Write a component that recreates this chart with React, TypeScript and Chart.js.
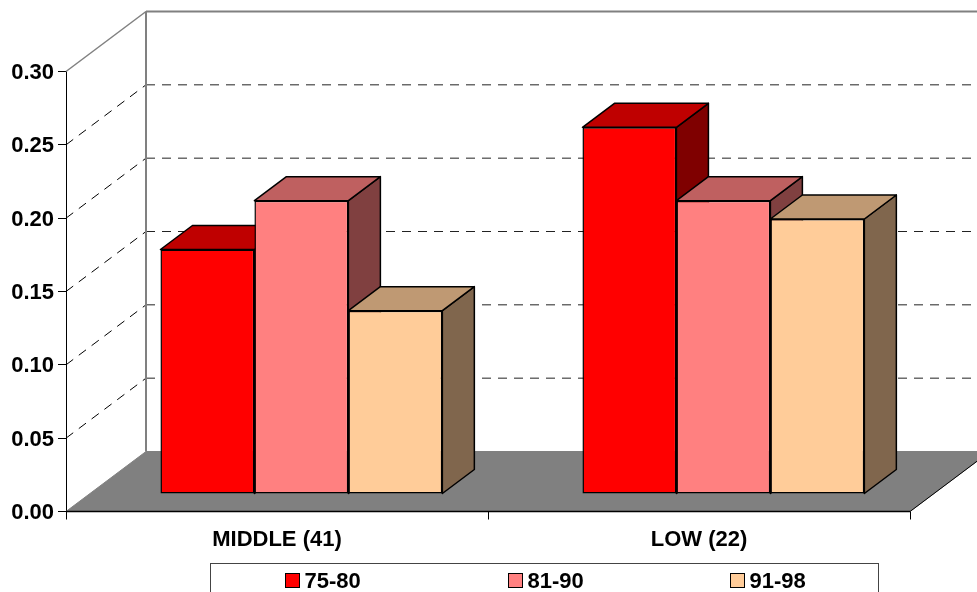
import React, { useEffect, useRef } from "react";
import { Chart, registerables } from "chart.js";

Chart.register(...registerables);

const categories = ["MIDDLE (41)", "LOW (22)"];
const seriesNames = ["75-80", "81-90", "91-98"];
const values7580 = [0.1667, 0.25];
const values8190 = [0.2, 0.2];
const values9198 = [0.125, 0.1875];
const frontColors = ["#FF0000", "#FF8080", "#FFCC99"];
const topColors = ["#BF0000", "#BF6060", "#BF9973"];
const sideColors = ["#7F0000", "#804040", "#80664D"];

const FONT = 'bold 22px "Liberation Sans", Arial, sans-serif';
const WALL_DX = 80;
const WALL_DY = -60;
const BAR_SHIFT_X = 24.4;
const BAR_SHIFT_Y = -17.5;
const BAR_DX = 32;
const BAR_DY = -24;

const poly = (ctx: CanvasRenderingContext2D, pts: number[][], fill: string, stroke: string, lw: number) => {
  ctx.beginPath();
  pts.forEach((p, i) => (i ? ctx.lineTo(p[0], p[1]) : ctx.moveTo(p[0], p[1])));
  ctx.closePath();
  ctx.fillStyle = fill;
  ctx.fill();
  ctx.strokeStyle = stroke;
  ctx.lineWidth = lw;
  ctx.stroke();
};

const line = (ctx: CanvasRenderingContext2D, x1: number, y1: number, x2: number, y2: number, color: string, lw: number, dash: number[] = []) => {
  ctx.save();
  ctx.beginPath();
  ctx.setLineDash(dash);
  ctx.moveTo(x1, y1);
  ctx.lineTo(x2, y2);
  ctx.strokeStyle = color;
  ctx.lineWidth = lw;
  ctx.stroke();
  ctx.restore();
};

const wallsPlugin = {
  id: "walls",
  beforeDatasetsDraw(chart: any) {
    const { ctx, scales } = chart;
    const { x, y } = scales;
    const left = x.left;
    const right = x.right;
    const base = y.getPixelForValue(0);
    const top = y.getPixelForValue(0.3);
    const W = chart.width;
    ctx.save();
    // floor
    poly(ctx, [[left, base], [left + WALL_DX, base + WALL_DY], [right + WALL_DX, base + WALL_DY], [right, base]], "#808080", "#808080", 1);
    line(ctx, right, base, right + WALL_DX, base + WALL_DY, "#000", 1);
    line(ctx, left, base, right, base, "#000", 1.5);
    // back wall gridlines and side-wall dashes
    y.ticks.forEach((t: any) => {
      if (t.value <= 0 || t.value >= 0.3) return;
      const py = y.getPixelForValue(t.value);
      line(ctx, left, py, left + WALL_DX, py + WALL_DY, "#000", 1, [9, 7]);
      line(ctx, left + WALL_DX, py + WALL_DY, W, py + WALL_DY, "#222", 1, [9, 7]);
    });
    // wall edges
    line(ctx, left, top, left + WALL_DX, top + WALL_DY, "#808080", 1.5);
    line(ctx, left + WALL_DX, top + WALL_DY, W, top + WALL_DY, "#808080", 2);
    line(ctx, left + WALL_DX, top + WALL_DY, left + WALL_DX, base + WALL_DY, "#808080", 2);
    // 3D bar faces, shifted onto the floor
    ctx.translate(BAR_SHIFT_X, BAR_SHIFT_Y);
    ctx.lineJoin = "round";
    chart.data.datasets.forEach((_: any, d: number) => {
      chart.getDatasetMeta(d).data.forEach((bar: any) => {
        const l = bar.x - bar.width / 2;
        const r = bar.x + bar.width / 2;
        const t = bar.y;
        const b = bar.base;
        poly(ctx, [[r, t], [r + BAR_DX, t + BAR_DY], [r + BAR_DX, b + BAR_DY], [r, b]], sideColors[d], "#000", 1.5);
        poly(ctx, [[l, t], [l + BAR_DX, t + BAR_DY], [r + BAR_DX, t + BAR_DY], [r, t]], topColors[d], "#000", 1.5);
      });
    });
  },
  afterDatasetsDraw(chart: any) {
    chart.ctx.restore();
  },
};

const legendPlugin = {
  id: "boxLegend",
  afterDraw(chart: any) {
    const { ctx } = chart;
    ctx.save();
    ctx.strokeStyle = "#444";
    ctx.lineWidth = 1;
    ctx.strokeRect(210.5, 563.5, 668, 40);
    ctx.font = FONT;
    ctx.textBaseline = "middle";
    ctx.textAlign = "left";
    const swatchX = [285.5, 508.5, 730.5];
    chart.data.datasets.forEach((ds: any, i: number) => {
      ctx.fillStyle = ds.backgroundColor;
      ctx.strokeStyle = "#000";
      ctx.lineWidth = 1;
      ctx.fillRect(swatchX[i], 573.5, 14, 14);
      ctx.strokeRect(swatchX[i], 573.5, 14, 14);
      ctx.fillStyle = "#000";
      ctx.fillText(ds.label, swatchX[i] + 19, 581.5);
    });
    ctx.restore();
  },
};

export default function App() {
  const ref = useRef<HTMLCanvasElement>(null);
  useEffect(() => {
    const chart = new Chart(ref.current as HTMLCanvasElement, {
      type: "bar",
      data: {
        labels: categories,
        datasets: [values7580, values8190, values9198].map((data, i) => ({
          label: seriesNames[i],
          data,
          backgroundColor: frontColors[i],
          borderColor: "#000",
          borderWidth: 1.5,
          borderSkipped: false,
          barPercentage: 1,
          categoryPercentage: 0.668,
          clip: false,
        })),
      },
      options: {
        animation: false,
        responsive: false,
        layout: { padding: { left: 0, right: 67, top: 71.5, bottom: 0 } },
        plugins: { legend: { display: false }, tooltip: { enabled: false } },
        scales: {
          x: {
            offset: true,
            grid: { drawOnChartArea: false, color: "#000", tickLength: 8, offset: true },
            border: { color: "#000", width: 1 },
            ticks: { color: "#000", font: { family: '"Liberation Sans", Arial, sans-serif', size: 22, weight: "bold" }, padding: 7, maxRotation: 0, autoSkip: false },
            afterFit(s: any) { s.height = 80.5; },
          },
          y: {
            min: 0,
            max: 0.3,
            grid: { drawOnChartArea: false, color: "#000", tickLength: 8 },
            border: { color: "#000", width: 1 },
            ticks: {
              stepSize: 0.05,
              color: "#000",
              font: { family: '"Liberation Sans", Arial, sans-serif', size: 22, weight: "bold" },
              padding: 4,
              labelOffset: 1.5,
              callback: (v: any) => Number(v).toFixed(2),
            },
            afterFit(s: any) { s.width = 66; },
          },
        },
      } as any,
      plugins: [wallsPlugin, legendPlugin],
    } as any);
    return () => chart.destroy();
  }, []);
  return (
    <div style={{ position: "absolute", left: 0, top: 0, width: 977, height: 592, background: "#fff", overflow: "hidden" }}>
      <canvas ref={ref} width={977} height={592} style={{ display: "block" }} />
    </div>
  );
}
